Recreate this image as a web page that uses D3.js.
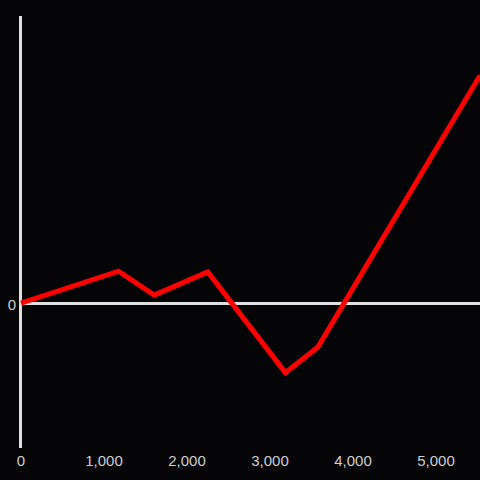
<!DOCTYPE html>
<html>
<head>
<meta charset="utf-8">
<script src="https://cdn.jsdelivr.net/npm/d3@7"></script>
<style>
  html, body { margin: 0; padding: 0; background: #050407; }
  svg { display: block; }
</style>
</head>
<body>
<div id="chart"></div>
<script>
var xValues = [0, 1175, 1605, 2250, 3185, 3575, 5530];
var yValues = [0, 22, 5.5, 21.5, -48, -30.5, 157];
var xTicks = [0, 1000, 2000, 3000, 4000, 5000];
var yTicks = [0];

var width = 480, height = 480;
var x = d3.scaleLinear().domain([0, 5530]).range([21, 480]);
var y = d3.scaleLinear().domain([-100, 198]).range([448, 16]);

var svg = d3.select("#chart").append("svg")
    .attr("width", width)
    .attr("height", height);

svg.append("rect").attr("width", width).attr("height", height).attr("fill", "#050407");

// y axis line
svg.append("line")
    .attr("x1", 20.5).attr("x2", 20.5)
    .attr("y1", y.range()[1]).attr("y2", y.range()[0])
    .attr("stroke", "#e0e0e0").attr("stroke-width", 3);

// zero line
svg.append("line")
    .attr("x1", 20).attr("x2", width)
    .attr("y1", y(0) + 0.5).attr("y2", y(0) + 0.5)
    .attr("stroke", "#e0e0e0").attr("stroke-width", 3);

// x tick labels
var fmt = d3.format(",");
svg.selectAll("text.xt")
    .data(xTicks)
    .enter().append("text")
    .attr("class", "xt")
    .attr("x", function (d) { return x(d); })
    .attr("y", 466)
    .attr("text-anchor", "middle")
    .attr("fill", "#cfcfcf")
    .style("font-family", "'Liberation Sans', Arial, sans-serif")
    .style("font-size", "15px")
    .text(function (d) { return fmt(d); });

svg.selectAll("text.yt")
    .data(yTicks)
    .enter().append("text")
    .attr("class", "yt")
    .attr("x", 16)
    .attr("y", function (d) { return y(d) + 7; })
    .attr("text-anchor", "end")
    .attr("fill", "#cfcfcf")
    .style("font-family", "'Liberation Sans', Arial, sans-serif")
    .style("font-size", "15px")
    .text(function (d) { return d; });

var pts = xValues.map(function (v, i) { return [v, yValues[i]]; });
var line = d3.line()
    .x(function (d) { return x(d[0]); })
    .y(function (d) { return y(d[1]); });

svg.append("path")
    .datum(pts)
    .attr("d", line)
    .attr("fill", "none")
    .attr("stroke", "#ff0000")
    .attr("stroke-width", 5)
    .attr("stroke-linejoin", "miter");
</script>
</body>
</html>
